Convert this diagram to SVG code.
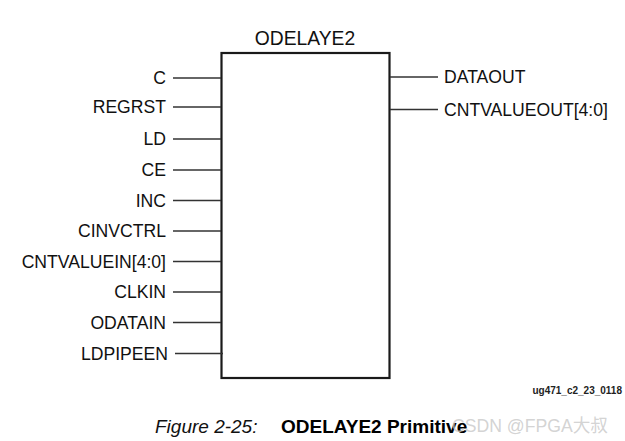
<svg xmlns="http://www.w3.org/2000/svg" width="625" height="441" viewBox="0 0 625 441">
<style>
.pin{font-family:"Liberation Sans",Arial,sans-serif;font-size:17.6px;fill:#111}
.l{text-anchor:end}
.w{stroke:#333;stroke-width:1.3;fill:none}
.box{fill:#fff;stroke:#1a1a1a;stroke-width:2.2}
</style>
<rect width="625" height="441" fill="#fff"/>
<g id="odelaye2">
<rect class="box" x="221.5" y="53" width="168" height="325"/>
<text x="305" y="45" text-anchor="middle" style="font-family:'Liberation Sans',Arial,sans-serif;font-size:19.3px;fill:#111">ODELAYE2</text>
</g>
<g id="connectors">
<line class="w" x1="173" y1="78" x2="221" y2="78"/>
<line class="w" x1="173" y1="107" x2="221" y2="107"/>
<line class="w" x1="173" y1="139" x2="221" y2="139"/>
<line class="w" x1="173" y1="170" x2="221" y2="170"/>
<line class="w" x1="173" y1="200.5" x2="221" y2="200.5"/>
<line class="w" x1="173" y1="231" x2="221" y2="231"/>
<line class="w" x1="173" y1="261.5" x2="221" y2="261.5"/>
<line class="w" x1="173" y1="292" x2="221" y2="292"/>
<line class="w" x1="173" y1="322.5" x2="221" y2="322.5"/>
<line class="w" x1="175" y1="353.5" x2="223" y2="353.5"/>
<line class="w" x1="390" y1="77" x2="438" y2="77"/>
<line class="w" x1="390" y1="109.5" x2="438" y2="109.5"/>
</g>
<g id="pin-labels">
<text class="pin l" x="166" y="84">C</text>
<text class="pin l" x="166" y="113">REGRST</text>
<text class="pin l" x="166" y="145">LD</text>
<text class="pin l" x="166" y="176">CE</text>
<text class="pin l" x="166" y="206.5">INC</text>
<text class="pin l" x="166" y="237">CINVCTRL</text>
<text class="pin l" x="166" y="267.5">CNTVALUEIN[4:0]</text>
<text class="pin l" x="166" y="298">CLKIN</text>
<text class="pin l" x="166" y="328.5">ODATAIN</text>
<text class="pin l" x="168" y="359.5">LDPIPEEN</text>
<text class="pin" x="444" y="83">DATAOUT</text>
<text class="pin" x="444" y="115.5">CNTVALUEOUT[4:0]</text>
</g>
<text x="622" y="394" text-anchor="end" style="font-family:'Liberation Sans',Arial,sans-serif;font-size:10px;font-weight:bold;fill:#222">ug471_c2_23_0118</text>
<text x="155" y="433" style="font-family:'Liberation Sans',Arial,sans-serif;font-size:19px;font-style:italic;fill:#111">Figure 2-25:</text>
<text x="281" y="433" style="font-family:'Liberation Sans',Arial,sans-serif;font-size:19px;font-weight:bold;fill:#000">ODELAYE2 Primitive</text>
<text x="452" y="432" textLength="156" lengthAdjust="spacingAndGlyphs" style="font-family:'Liberation Sans','Noto Sans CJK SC',sans-serif;font-size:18px;fill:#c8c8c8;fill-opacity:0.8">CSDN @FPGA大叔</text>
</svg>
